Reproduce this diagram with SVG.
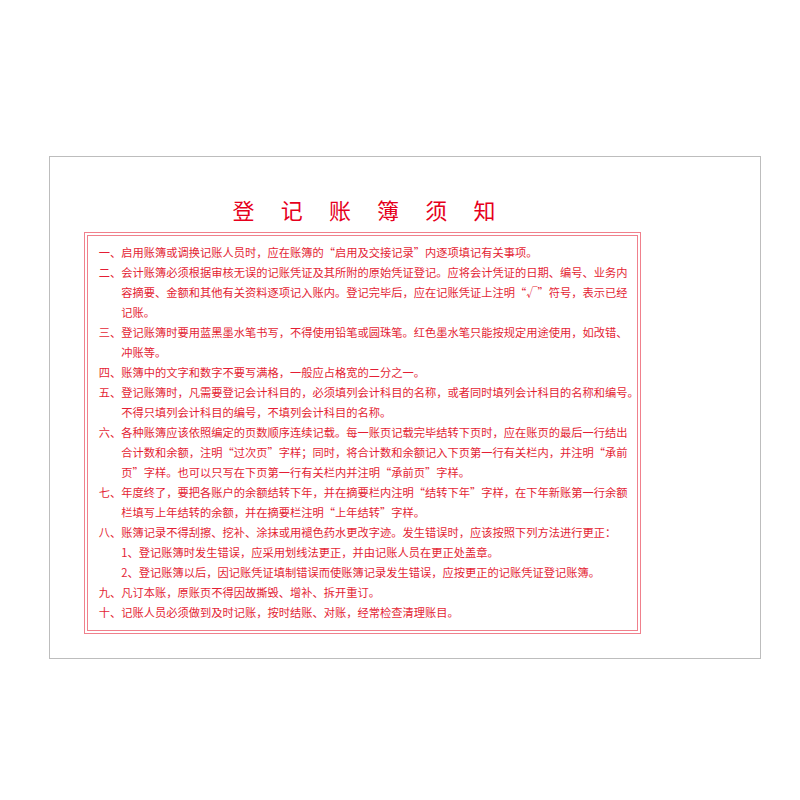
<svg xmlns="http://www.w3.org/2000/svg" width="800" height="800" viewBox="0 0 800 800">
<style>
.title{font-family:"Noto Sans CJK SC",sans-serif;font-size:22px;fill:#e6001c;text-anchor:middle}
.t{font-family:"Noto Sans CJK SC",sans-serif;font-size:11.25px;fill:#e41e34}
.frame{fill:none;stroke:#f0808c;stroke-width:1}
</style>
<rect width="800" height="800" fill="#ffffff"/>
<g id="sheet">
<rect x="49.5" y="156.5" width="711" height="502" fill="#ffffff" stroke="#bdbdbd" stroke-width="1"/>
</g>
<g id="title">
<text class="title" x="243.5" y="219">登</text>
<text class="title" x="291.7" y="219">记</text>
<text class="title" x="339.9" y="219">账</text>
<text class="title" x="388.1" y="219">簿</text>
<text class="title" x="436.3" y="219">须</text>
<text class="title" x="484.5" y="219">知</text>
</g>
<g id="frame">
<rect class="frame" x="84.5" y="232.5" width="556" height="401"/>
<rect class="frame" x="87.5" y="235.5" width="550" height="395"/>
</g>
<g id="notes">
<text class="t" x="98.8" y="257.2">一、启用账簿或调换记账人员时，应在账簿的“启用及交接记录”内逐项填记有关事项。</text>
<text class="t" x="98.8" y="277.2">二、会计账簿必须根据审核无误的记账凭证及其所附的原始凭证登记。应将会计凭证的日期、编号、业务内</text>
<text class="t" x="121.3" y="297.2">容摘要、金额和其他有关资料逐项记入账内。登记完毕后，应在记账凭证上注明“√”符号，表示已经</text>
<text class="t" x="121.3" y="317.2">记账。</text>
<text class="t" x="98.8" y="337.2">三、登记账簿时要用蓝黑墨水笔书写，不得使用铅笔或圆珠笔。红色墨水笔只能按规定用途使用，如改错、</text>
<text class="t" x="121.3" y="357.2">冲账等。</text>
<text class="t" x="98.8" y="377.2">四、账簿中的文字和数字不要写满格，一般应占格宽的二分之一。</text>
<text class="t" x="98.8" y="397.2">五、登记账簿时，凡需要登记会计科目的，必须填列会计科目的名称，或者同时填列会计科目的名称和编号。</text>
<text class="t" x="121.3" y="417.2">不得只填列会计科目的编号，不填列会计科目的名称。</text>
<text class="t" x="98.8" y="437.2">六、各种账簿应该依照编定的页数顺序连续记载。每一账页记载完毕结转下页时，应在账页的最后一行结出</text>
<text class="t" x="121.3" y="457.2">合计数和余额，注明“过次页”字样；同时，将合计数和余额记入下页第一行有关栏内，并注明“承前</text>
<text class="t" x="121.3" y="477.2">页”字样。也可以只写在下页第一行有关栏内并注明“承前页”字样。</text>
<text class="t" x="98.8" y="497.2">七、年度终了，要把各账户的余额结转下年，并在摘要栏内注明“结转下年”字样，在下年新账第一行余额</text>
<text class="t" x="121.3" y="517.2">栏填写上年结转的余额，并在摘要栏注明“上年结转”字样。</text>
<text class="t" x="98.8" y="537.2">八、账簿记录不得刮擦、挖补、涂抹或用褪色药水更改字迹。发生错误时，应该按照下列方法进行更正：</text>
<text class="t" x="121.3" y="557.2">1、登记账簿时发生错误，应采用划线法更正，并由记账人员在更正处盖章。</text>
<text class="t" x="121.3" y="577.2">2、登记账簿以后，因记账凭证填制错误而使账簿记录发生错误，应按更正的记账凭证登记账簿。</text>
<text class="t" x="98.8" y="597.2">九、凡订本账，原账页不得因故撕毁、增补、拆开重订。</text>
<text class="t" x="98.8" y="617.2">十、记账人员必须做到及时记账，按时结账、对账，经常检查清理账目。</text>
</g>
</svg>
